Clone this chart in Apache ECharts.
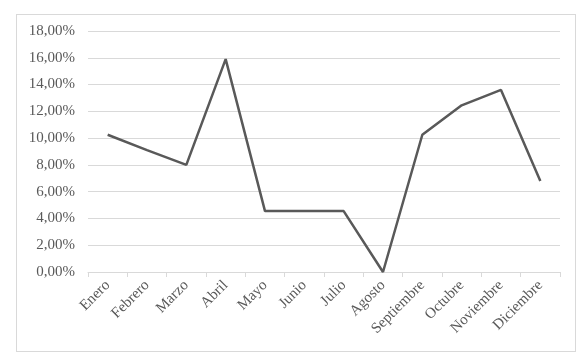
<!DOCTYPE html>
<html><head><meta charset="utf-8">
<script src="https://cdn.jsdelivr.net/npm/echarts@6/dist/echarts.min.js"></script>
<style>html,body{margin:0;padding:0;background:#fff}#c{width:588px;height:362px;position:relative}
#frame{position:absolute;left:16px;top:14px;width:560px;height:338px;border:1px solid #d9d9d9;box-sizing:border-box;pointer-events:none}</style>
</head><body><div id="c"></div><div id="frame"></div>
<script>
const categories = ['Enero','Febrero','Marzo','Abril','Mayo','Junio','Julio','Agosto','Septiembre','Octubre','Noviembre','Diciembre'];
const values = [10.25, 9.1, 8.0, 15.9, 4.55, 4.55, 4.55, 0.0, 10.25, 12.45, 13.6, 6.8];
const yTicks = [0,2,4,6,8,10,12,14,16,18];

const chart = echarts.init(document.getElementById('c'), null, {renderer:'canvas'});
const font = '"Liberation Serif","Times New Roman",serif';
chart.setOption({
  animation:false,
  grid:{left:88,right:28,top:31,bottom:90,containLabel:false},
  xAxis:{type:'category',data:categories,boundaryGap:true,
    axisLine:{lineStyle:{color:'#d9d9d9',width:1}},
    axisTick:{show:true,alignWithLabel:false,length:5,lineStyle:{color:'#d9d9d9'}},
    axisLabel:{rotate:45,color:'#595959',fontFamily:font,fontSize:15,margin:11,interval:0}},
  yAxis:{type:'value',min:yTicks[0],max:yTicks[yTicks.length-1],interval:2,
    axisLine:{show:false},axisTick:{show:false},
    splitLine:{lineStyle:{color:'#d9d9d9',width:1}},
    axisLabel:{color:'#595959',fontFamily:font,fontSize:15,margin:13,
      formatter:v=>v.toFixed(2).replace('.',',')+'%'}},
  series:[{type:'line',data:values,symbol:'none',
    lineStyle:{color:'#595959',width:2.5},z:5}]
});
</script></body></html>
